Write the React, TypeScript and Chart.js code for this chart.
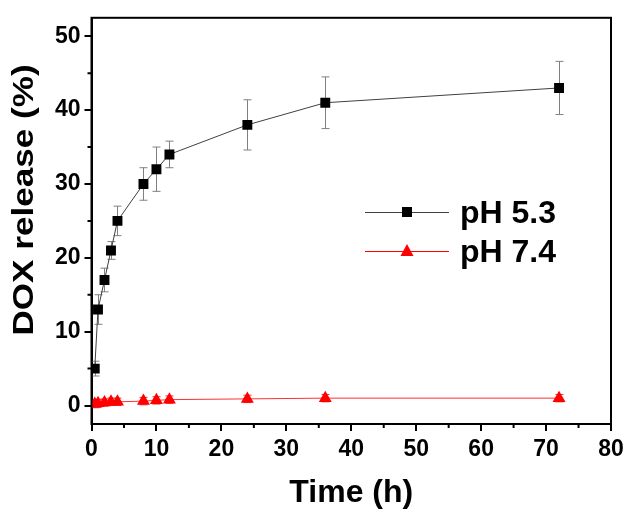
import React, { useEffect, useRef } from "react";
import { Chart, registerables } from "chart.js";

Chart.register(...registerables);

const times = [0.5, 1, 2, 3, 4, 8, 10, 12, 24, 36, 72];
const ph53 = [5, 13, 17, 21, 25, 30, 32, 34, 38, 41, 43];
const ph53Err = [1, 2, 1.6, 1.2, 2, 2.2, 3, 1.8, 3.4, 3.5, 3.6];
const ph74 = [0.2, 0.3, 0.4, 0.5, 0.5, 0.6, 0.7, 0.8, 0.9, 1.0, 1.0];
const ph74Err = [0.5, 0.5, 0.5, 0.5, 0.5, 0.5, 0.5, 0.5, 0.5, 0.5, 0.5];
const seriesLabels = ["pH 5.3", "pH 7.4"];
const xTicks = [0, 10, 20, 30, 40, 50, 60, 70, 80];
const yTicks = [0, 10, 20, 30, 40, 50];
const xMinor = [5, 15, 25, 35, 45, 55, 65, 75];
const yMinor = [5, 15, 25, 35, 45];
const xTitle = "Time (h)";
const yTitle = "DOX release (%)";

const FONT = "'Liberation Sans', Arial, sans-serif";

const errorBarPlugin = {
  id: "errorBars",
  beforeDatasetsDraw(chart: any) {
    const ctx = chart.ctx;
    const xs = chart.scales.x;
    const ys = chart.scales.y;
    const sets = [
      { vals: ph53, errs: ph53Err, color: "#808080" },
      { vals: ph74, errs: ph74Err, color: "#ff3030" },
    ];
    ctx.save();
    sets.forEach((s) => {
      ctx.strokeStyle = s.color;
      ctx.lineWidth = 1;
      times.forEach((t, i) => {
        const px = Math.round(xs.getPixelForValue(t)) + 0.5;
        const top = ys.getPixelForValue(s.vals[i] + s.errs[i]);
        const bot = ys.getPixelForValue(s.vals[i] - s.errs[i]);
        ctx.beginPath();
        ctx.moveTo(px, top);
        ctx.lineTo(px, bot);
        ctx.moveTo(px - 4, top);
        ctx.lineTo(px + 4, top);
        ctx.moveTo(px - 4, bot);
        ctx.lineTo(px + 4, bot);
        ctx.stroke();
      });
    });
    ctx.restore();
  },
};

const decorPlugin = {
  id: "decor",
  afterDraw(chart: any) {
    const ctx = chart.ctx;
    const a = chart.chartArea;
    const xs = chart.scales.x;
    const ys = chart.scales.y;
    ctx.save();
    ctx.strokeStyle = "#000";
    ctx.lineWidth = 2;
    ctx.strokeRect(a.left, a.top, a.right - a.left, a.bottom - a.top);
    ctx.beginPath();
    xMinor.forEach((v) => {
      const px = xs.getPixelForValue(v);
      ctx.moveTo(px, a.bottom);
      ctx.lineTo(px, a.bottom + 4);
    });
    yMinor.forEach((v) => {
      const py = ys.getPixelForValue(v);
      ctx.moveTo(a.left, py);
      ctx.lineTo(a.left - 4, py);
    });
    ctx.stroke();

    ctx.fillStyle = "#000";
    ctx.font = `bold 32px ${FONT}`;
    ctx.textAlign = "center";
    ctx.textBaseline = "alphabetic";
    ctx.fillText(xTitle, (a.left + a.right) / 2, 502);

    ctx.save();
    ctx.translate(33, 200);
    ctx.rotate(-Math.PI / 2);
    ctx.scale(1.17, 1);
    ctx.font = `bold 30px ${FONT}`;
    ctx.textAlign = "center";
    ctx.fillText(yTitle, 0, 0);
    ctx.restore();

    const rows = [
      { y: 212, color: "#000", lineColor: "#404040", style: "rect" },
      { y: 251, color: "#ff0000", lineColor: "#ff0000", style: "triangle" },
    ];
    rows.forEach((r, i) => {
      ctx.strokeStyle = r.lineColor;
      ctx.lineWidth = 1;
      ctx.beginPath();
      ctx.moveTo(365, r.y + 0.5);
      ctx.lineTo(449, r.y + 0.5);
      ctx.stroke();
      ctx.fillStyle = r.color;
      ctx.beginPath();
      if (r.style === "rect") {
        ctx.rect(402, r.y - 5, 10, 10);
      } else {
        ctx.moveTo(407, r.y - 7);
        ctx.lineTo(413.5, r.y + 5);
        ctx.lineTo(400.5, r.y + 5);
        ctx.closePath();
      }
      ctx.fill();
      ctx.fillStyle = "#000";
      ctx.font = `bold 32px ${FONT}`;
      ctx.textAlign = "left";
      ctx.textBaseline = "alphabetic";
      ctx.fillText(seriesLabels[i], 460, r.y + 11);
    });
    ctx.restore();
  },
};

export default function App() {
  const ref = useRef<HTMLCanvasElement>(null);
  useEffect(() => {
    if (!ref.current) return;
    const chart = new Chart(ref.current, {
      type: "line",
      data: {
        datasets: [
          {
            label: seriesLabels[0],
            data: times.map((t, i) => ({ x: t, y: ph53[i] })),
            borderColor: "#404040",
            borderWidth: 1,
            backgroundColor: "#000",
            pointStyle: "rect",
            pointRadius: 7,
            pointBorderWidth: 0,
            pointBackgroundColor: "#000",
          },
          {
            label: seriesLabels[1],
            data: times.map((t, i) => ({ x: t, y: ph74[i] })),
            borderColor: "#ff3030",
            borderWidth: 1,
            backgroundColor: "#ff0000",
            pointStyle: "triangle",
            pointRadius: 7.5,
            pointBorderWidth: 0,
            pointBackgroundColor: "#ff0000",
          },
        ],
      },
      options: {
        animation: false,
        responsive: false,
        maintainAspectRatio: false,
        layout: { padding: { top: 9, right: 21, left: 0, bottom: 0 } },
        plugins: {
          legend: { display: false },
          tooltip: { enabled: false },
        },
        scales: {
          x: {
            type: "linear",
            min: 0,
            max: 80,
            afterBuildTicks: (s: any) => {
              s.ticks = xTicks.map((v) => ({ value: v }));
            },
            afterFit: (s: any) => {
              s.height = 95;
            },
            ticks: {
              color: "#000",
              font: { family: FONT, size: 23, weight: "bold" },
              padding: 5,
              maxRotation: 0,
              autoSkip: false,
            },
            grid: {
              display: true,
              drawOnChartArea: false,
              drawTicks: true,
              tickLength: 7,
              color: "#000",
              lineWidth: 2,
            },
            border: { display: true, color: "#000", width: 2 },
          },
          y: {
            type: "linear",
            min: -2.5,
            max: 52.5,
            afterBuildTicks: (s: any) => {
              s.ticks = yTicks.map((v) => ({ value: v }));
            },
            afterFit: (s: any) => {
              s.width = 91.5;
            },
            ticks: {
              color: "#000",
              font: { family: FONT, size: 23, weight: "bold" },
              padding: 4,
              autoSkip: false,
            },
            grid: {
              display: true,
              drawOnChartArea: false,
              drawTicks: true,
              tickLength: 7,
              color: "#000",
              lineWidth: 2,
            },
            border: { display: true, color: "#000", width: 2 },
          },
        },
      } as any,
      plugins: [errorBarPlugin, decorPlugin],
    });
    return () => chart.destroy();
  }, []);
  return (
    <div style={{ position: "absolute", left: 0, top: 0, width: 632, height: 519, background: "#fff" }}>
      <canvas ref={ref} width={632} height={519} style={{ width: 632, height: 519, display: "block" }} />
    </div>
  );
}
